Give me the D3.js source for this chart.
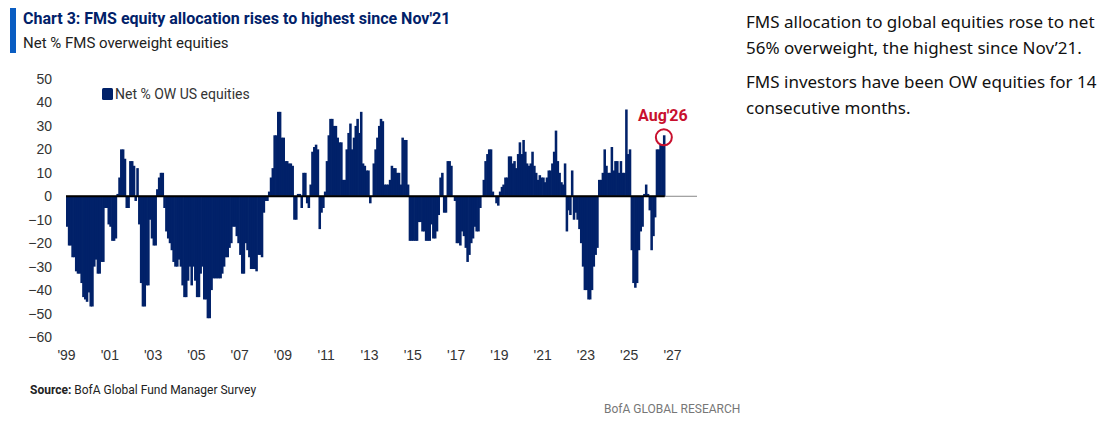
<!DOCTYPE html>
<html><head><meta charset="utf-8">
<script src="https://cdn.jsdelivr.net/npm/d3@7"></script>
<style>
body{margin:0;background:#fff;font-family:"Liberation Sans Narrow","Roboto",sans-serif;}
</style></head>
<body><svg id="c" width="1118" height="424"></svg>
<script>
// monthly net % OW, Jan 1999 .. Aug 2026, one row per year
const y1999 = [-13,-21,-21,-26,-26,-32,-33,-33,-37,-43,-44,-45];
const y2000 = [-41,-47,-47,-30,-27,-33,-33,-28,-28,-5,-5,-12];
const y2001 = [-13,-19,-19,-18,1,8,20,20,16,-5,-5,15];
const y2002 = [15,13,-2,12,-12,-37,-47,-47,-38,-38,-10,-18];
const y2003 = [-21,-21,3,8,10,10,-5,-15,-18,-20,-23,-28];
const y2004 = [-30,-30,-27,-30,-38,-43,-43,-36,-30,-38,-30,-36];
const y2005 = [-43,-43,-33,-30,-44,-44,-52,-52,-40,-35,-35,-35];
const y2006 = [-35,-35,-33,-30,-26,-26,-22,-20,-13,-13,-17,-20];
const y2007 = [-25,-33,-33,-20,-23,-26,-31,-31,-31,-32,-25,-25];
const y2008 = [-26,-7,-2,-2,2,8,12,26,26,36,36,25];
const y2009 = [25,15,15,14,14,13,-10,-10,1,1,-5,10];
const y2010 = [10,-3,-5,5,19,21,22,20,-14,-7,-5,2];
const y2011 = [15,26,33,33,30,30,25,23,23,7,7,20];
const y2012 = [27,31,20,25,30,33,27,36,14,13,11,11];
const y2013 = [-3,0,14,20,25,30,33,32,5,5,5,7];
const y2014 = [13,12,12,10,10,5,25,24,24,5,-19,-19];
const y2015 = [-19,-19,-19,-11,-11,-15,-15,-19,-19,-19,-12,-18];
const y2016 = [-18,-15,-8,8,10,-7,-7,15,15,13,0,-2];
const y2017 = [-20,-20,-21,-15,-17,-22,-28,-25,-20,-18,-13,-15];
const y2018 = [-15,-5,0,7,15,18,20,20,2,0,-3,-4];
const y2019 = [2,4,5,8,8,17,17,14,15,12,18,23];
const y2020 = [18,24,19,14,13,14,19,13,10,7,9,8];
const y2021 = [8,6,8,11,11,14,19,28,15,10,6,5];
const y2022 = [14,-15,-6,-8,11,-10,-7,-10,-14,-20,-30,-40];
const y2023 = [-40,-44,-44,-40,-30,-25,-22,7,7,10,20,13];
const y2024 = [10,10,21,11,15,15,10,15,10,10,37,18];
const y2025 = [20,-23,-37,-39,-37,-23,-15,-13,1,5,1,-6];
const y2026 = [-23,-17,-9,20,20,22,22,26];
const years = [y1999,y2000,y2001,y2002,y2003,y2004,y2005,y2006,y2007,y2008,y2009,y2010,y2011,y2012,
  y2013,y2014,y2015,y2016,y2017,y2018,y2019,y2020,y2021,y2022,y2023,y2024,y2025,y2026];
const yTicks = [50,40,30,20,10,0,-10,-20,-30,-40,-50,-60];
const xTickYears = d3.range(1999, 2028, 2);

const data = [];
years.forEach((arr, i) => arr.forEach((v, m) => data.push({date: new Date(1999 + i, m, 1), v})));

const svg = d3.select("#c");
const navy = "#012169";
const x = d3.scaleTime().domain([new Date(1999,0,1), new Date(2027,0,1)]).range([66, 672]);
const y = d3.scaleLinear().domain([-60, 50]).range([337, 79]);

// header
svg.append("rect").attr("x",10).attr("y",8).attr("width",6).attr("height",45).attr("fill","#0a5dc2");
svg.append("text").attr("x",23).attr("y",24).attr("font-size",16).attr("font-weight","bold").attr("fill",navy)
  .text("Chart 3: FMS equity allocation rises to highest since Nov'21");
svg.append("text").attr("x",23).attr("y",48).attr("font-size",15).attr("fill","#222").text("Net % FMS overweight equities");

// bars
const bw = x(new Date(1999,1,1)) - x(new Date(1999,0,1));
svg.append("g").selectAll("rect").data(data).enter().append("rect")
  .attr("x", d => x(d.date))
  .attr("width", bw + 0.7)
  .attr("y", d => y(Math.max(0, d.v)))
  .attr("height", d => Math.abs(y(d.v) - y(0)))
  .attr("fill", navy);

// zero line
svg.append("line").attr("x1",66).attr("x2",697).attr("y1",y(0)).attr("y2",y(0)).attr("stroke","#888").attr("stroke-width",1);
svg.append("line").attr("x1",66).attr("x2",x(new Date(2026,8,1))).attr("y1",y(0)).attr("y2",y(0)).attr("stroke","#000").attr("stroke-width",2);

// axes
const ya = svg.append("g").attr("transform","translate(52,0)")
  .call(d3.axisLeft(y).tickValues(yTicks).tickSize(0).tickPadding(0));
ya.select(".domain").remove();
ya.selectAll("text").attr("font-size",14).attr("fill","#333").attr("font-family","Liberation Sans Narrow, sans-serif");
const xa = svg.append("g").attr("transform","translate(0,350)")
  .call(d3.axisBottom(x).tickValues(xTickYears.map(yr => new Date(yr,0,1)))
    .tickFormat(d => "'" + String(d.getFullYear()).slice(2)).tickSize(0).tickPadding(0));
xa.select(".domain").remove();
xa.selectAll("text").attr("font-size",14).attr("fill","#333").attr("dy","0.71em").attr("font-family","Liberation Sans Narrow, sans-serif");

// legend
svg.append("rect").attr("x",102).attr("y",88).attr("width",11).attr("height",12).attr("rx",1.5).attr("fill",navy);
svg.append("text").attr("x",115).attr("y",99).attr("font-size",14).attr("fill","#333").text("Net % OW US equities");

// annotation
const last = data[data.length-1];
const cx = x(last.date) + bw/2;
svg.append("circle").attr("cx",cx).attr("cy",y(last.v)+2).attr("r",8).attr("fill","none").attr("stroke","#c8102e").attr("stroke-width",2);
svg.append("text").attr("x",cx-1).attr("y",121).attr("text-anchor","middle").attr("font-size",16).attr("font-weight","bold")
  .attr("fill","#c8102e").text("Aug'26");

// footer
svg.append("text").attr("x",30).attr("y",394).attr("font-size",12).attr("fill","#222")
  .html('<tspan font-weight="bold">Source:</tspan> BofA Global Fund Manager Survey');
svg.append("text").attr("x",604).attr("y",413).attr("font-size",12).attr("fill","#777").text("BofA GLOBAL RESEARCH");

// side commentary
const side = [["FMS allocation to global equities rose to net",28],["56% overweight, the highest since Nov’21.",54],
  ["FMS investors have been OW equities for 14",88],["consecutive months.",114]];
svg.append("g").selectAll("text").data(side).enter().append("text")
  .attr("x",746).attr("y",d => d[1]).attr("font-size",17).attr("fill","#111")
  .attr("font-family","Noto Sans, sans-serif").text(d => d[0]);
</script></body></html>
